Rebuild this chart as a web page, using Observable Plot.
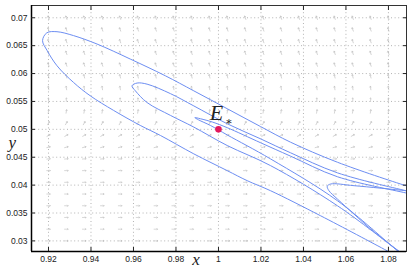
<!DOCTYPE html>
<html><head><meta charset="utf-8">
<script src="https://cdn.jsdelivr.net/npm/d3@7"></script>
<script src="https://cdn.jsdelivr.net/npm/@observablehq/plot@0.6"></script>
<style>body{margin:0;background:#fff;}</style>
</head><body><div id="chart"></div>
<script>
const xTicks = [0.92, 0.94, 0.96, 0.98, 1, 1.02, 1.04, 1.06, 1.08];
const yTicks = [0.03, 0.035, 0.04, 0.045, 0.05, 0.055, 0.06, 0.065, 0.07];
const xDomain = [0.912, 1.0885];
const yDomain = [0.0281, 0.0722];

// direction field sample grid
const fieldX = [0.92, 0.9284, 0.9368, 0.9453, 0.9537, 0.9621, 0.9705, 0.9789, 0.9874, 0.9958,
                1.0042, 1.0126, 1.0211, 1.0295, 1.0379, 1.0463, 1.0547, 1.0632, 1.0716, 1.08];
const fieldY = [0.03, 0.0321, 0.0342, 0.0363, 0.0384, 0.0405, 0.0426, 0.0447, 0.0468, 0.0489,
                0.0511, 0.0532, 0.0553, 0.0574, 0.0595, 0.0616, 0.0637, 0.0658, 0.0679, 0.07];
const fieldAngle = [90, 90, 90, 90, 90, 90, 90, 85, 75, 60, 30, 10, 0, -10, -15, -20, -20, -20, -20, -20];

// trajectory pieces
const outerX = [1.0858, 1.0795, 1.0481, 1.0245, 1.0135, 1.0041, 0.9884, 0.9727, 0.9632, 0.9506, 0.9397, 0.9318, 0.9240, 0.9194, 0.9172, 0.9192, 0.9240, 0.9318, 0.9428, 0.9585, 0.9750, 0.9884, 1.0041, 1.0198, 1.0339, 1.0560, 1.0882, 1.0929];
const outerY = [0.0269, 0.0282, 0.0345, 0.0390, 0.0408, 0.0426, 0.0456, 0.0489, 0.0507, 0.0534, 0.0560, 0.0584, 0.0614, 0.0641, 0.0659, 0.0673, 0.0675, 0.0668, 0.0653, 0.0626, 0.0596, 0.0569, 0.0537, 0.0505, 0.0477, 0.0441, 0.0399, 0.0394];

const innerX = [1.0882, 1.0850, 1.0560, 1.0245, 1.0041, 0.9884, 0.9774, 0.9664, 0.9609, 0.9593, 0.9617, 0.9664, 0.9774, 0.9884, 1.0041, 1.0198, 1.0339, 1.0560, 1.0882, 1.0929];
const innerY = [0.0272, 0.0281, 0.0363, 0.0435, 0.0471, 0.0504, 0.0525, 0.0548, 0.0569, 0.0578, 0.0583, 0.0581, 0.0564, 0.0542, 0.0510, 0.0483, 0.0458, 0.0422, 0.0390, 0.0386];

const hairpinX = [1.0882, 1.0843, 1.0560, 1.0245, 1.0041, 0.9962, 0.9906, 0.9889, 0.9915, 0.9972, 1.0041, 1.0198, 1.0339, 1.0560, 1.0882, 1.0929];
const hairpinY = [0.0270, 0.0282, 0.0372, 0.0447, 0.0490, 0.0507, 0.0517, 0.0521, 0.0519, 0.0513, 0.0503, 0.0476, 0.0452, 0.0415, 0.0386, 0.0382];

const rightTipX = [1.0896, 1.0858, 1.0717, 1.0638, 1.0560, 1.0520, 1.0512, 1.0528, 1.0638, 1.0882, 1.0929];
const rightTipY = [0.0268, 0.0279, 0.0321, 0.0348, 0.0375, 0.0390, 0.0398, 0.0402, 0.0399, 0.0390, 0.0388];

const equilibrium = [{x: 1, y: 0.05}];

const field = fieldY.flatMap((y, j) => fieldX.map(x => ({x, y, a: fieldAngle[j]})));
const pieces = [["outer", outerX, outerY], ["inner", innerX, innerY], ["hairpin", hairpinX, hairpinY], ["tip", rightTipX, rightTipY]]
  .flatMap(([id, xs, ys]) => xs.map((x, i) => ({id, x, y: ys[i]})));

const fmt = d => String(+d.toFixed(4));
const blue = "#6d8ef2";

const chart = Plot.plot({
  width: 409, height: 273,
  marginLeft: 31, marginRight: 3, marginTop: 5, marginBottom: 22,
  style: {fontFamily: "Liberation Sans, Arial, sans-serif", fontSize: "8.5px", background: "#fff", color: "#222"},
  x: {domain: xDomain, label: null},
  y: {domain: yDomain, label: null},
  marks: [
    Plot.gridX(xTicks, {stroke: "#888", strokeOpacity: 0.9, strokeWidth: 0.7, strokeDasharray: "1,2.6"}),
    Plot.gridY(yTicks, {stroke: "#888", strokeOpacity: 0.9, strokeWidth: 0.7, strokeDasharray: "1,2.6"}),
    Plot.vector(field, {x: "x", y: "y", rotate: "a", length: 3.5, anchor: "middle", stroke: "#bdbdbd", strokeWidth: 0.6}),
    Plot.line(pieces, {x: "x", y: "y", z: "id", curve: "catmull-rom", stroke: blue, strokeWidth: 1, clip: true}),
    Plot.dot(equilibrium, {x: "x", y: "y", r: 3.3, fill: "#e3195c", stroke: "none"}),
    Plot.text(equilibrium, {x: "x", y: "y", text: () => "E", dx: -2, dy: -16, fontFamily: "Liberation Serif", fontStyle: "italic", fontSize: 22}),
    Plot.text(equilibrium, {x: "x", y: "y", text: () => "∗", dx: 10.5, dy: -8, fontFamily: "DejaVu Serif", fontSize: 11}),
    Plot.frame({stroke: "#333", strokeWidth: 1}),
    Plot.ruleX([xDomain[0]], {stroke: "#000", strokeWidth: 1.5}),
    Plot.ruleY([yDomain[0]], {stroke: "#000", strokeWidth: 1.5}),
    Plot.axisX(xTicks, {anchor: "bottom", tickSize: 0, tickPadding: 4, tickFormat: fmt, label: null}),
    Plot.axisY(yTicks, {anchor: "left", tickSize: 0, tickPadding: 4, tickFormat: fmt, label: null}),
    Plot.axisX(xTicks, {anchor: "bottom", tickSize: -4, tickFormat: () => "", label: null, stroke: "#222"}),
    Plot.axisX(xTicks, {anchor: "top", tickSize: -4, tickFormat: () => "", label: null, stroke: "#222"}),
    Plot.axisY(yTicks, {anchor: "left", tickSize: -4, tickFormat: () => "", label: null, stroke: "#222"}),
    Plot.axisY(yTicks, {anchor: "right", tickSize: -4, tickFormat: () => "", label: null, stroke: "#222"}),
    Plot.text(["x"], {frameAnchor: "bottom", dx: -23, dy: 13, fontFamily: "Liberation Serif", fontStyle: "italic", fontSize: 17}),
    Plot.text(["y"], {frameAnchor: "left", dx: -23, dy: 14, fontFamily: "Liberation Serif", fontStyle: "italic", fontSize: 17})
  ]
});
document.getElementById("chart").append(chart);
</script>
</body></html>
